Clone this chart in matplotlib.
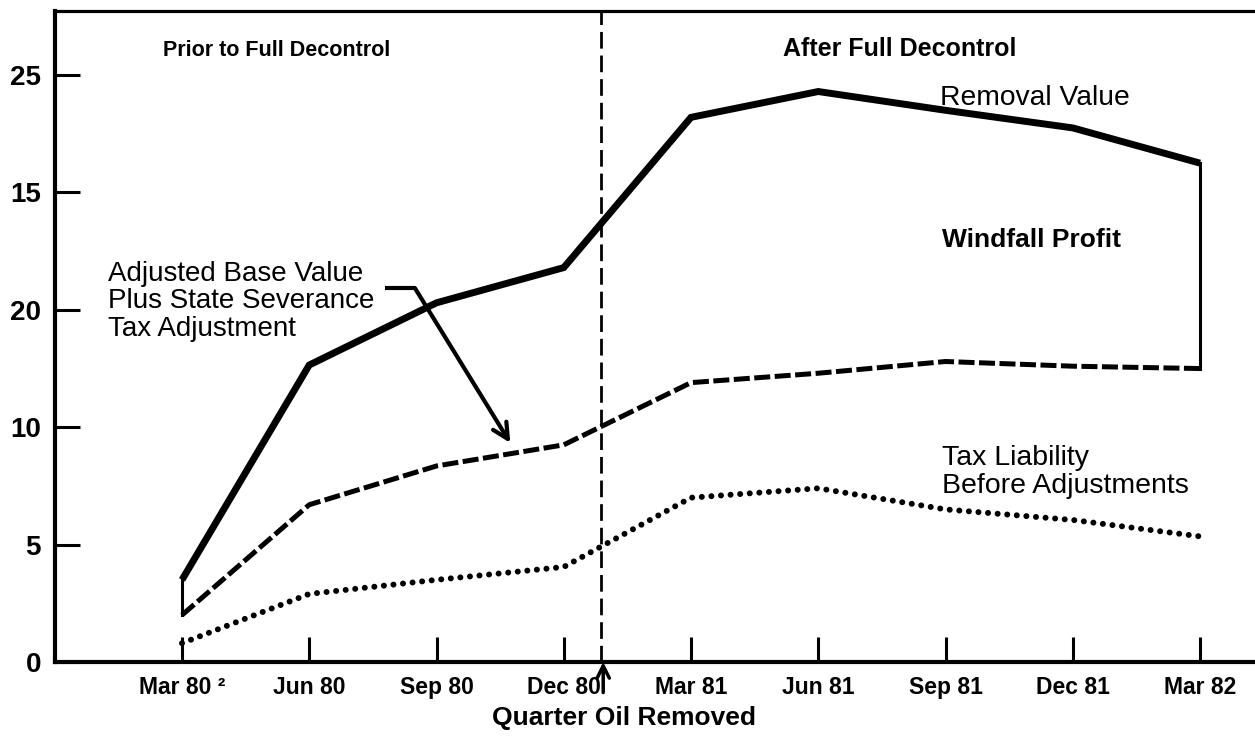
import matplotlib
matplotlib.use("Agg")
import matplotlib.pyplot as plt

plt.rcParams['font.family'] = ['Liberation Sans', 'DejaVu Sans']

quarters = ["Mar 80 ²", "Jun 80", "Sep 80", "Dec 80", "Mar 81", "Jun 81", "Sep 81", "Dec 81", "Mar 82"]
removal_value = [3.5, 12.65, 15.3, 16.8, 23.2, 24.3, 23.5, 22.75, 21.25]
adjusted_base = [2.0, 6.7, 8.35, 9.25, 11.9, 12.3, 12.8, 12.6, 12.5]
tax_liability = [0.8, 2.9, 3.5, 4.05, 7.0, 7.4, 6.5, 6.05, 5.35]
ytick_values = [0, 5, 10, 15, 20, 25]
ytick_labels = ["0", "5", "10", "20", "15", "25"]
decontrol_x = 3.29

fig = plt.figure(figsize=(12.55, 7.4), dpi=100)
ax = fig.add_axes([55/1255, 78/740, 1200/1255, 651/740])

x = list(range(len(quarters)))

ax.plot(x, removal_value, color='black', lw=5, solid_joinstyle='miter', solid_capstyle='butt', zorder=3)
ax.plot(x, adjusted_base, color='black', lw=3.6, linestyle=(0, (3.2, 0.9)), zorder=3)
ax.plot(x, tax_liability, color='black', lw=4.3, linestyle=(0, (0.01, 1.6)),
        dash_capstyle='round', zorder=3)
# closing verticals of the windfall region
ax.plot([x[0], x[0]], [adjusted_base[0], removal_value[0]], color='black', lw=2.2)
ax.plot([x[-1], x[-1]], [adjusted_base[-1], removal_value[-1]], color='black', lw=2.2)

# decontrol divider
ax.axvline(decontrol_x, color='black', lw=2, linestyle=(0, (6, 2.5)), zorder=2)
ax.annotate("", xy=(decontrol_x + 0.02, 0), xytext=(0, -22), textcoords='offset points',
            annotation_clip=False,
            arrowprops=dict(arrowstyle='->', lw=2.5, color='black', mutation_scale=22,
                            shrinkA=0, shrinkB=0))

ax.set_xlim(-0.998, 8.432)
ax.set_ylim(0, 27.73)

ax.set_xticks(x)
ax.set_xticklabels(quarters, fontsize=16.5, fontweight='bold')
ax.set_yticks(ytick_values)
ax.set_yticklabels(ytick_labels, fontsize=20, fontweight='bold')
ax.tick_params(axis='x', direction='in', length=18, width=2.2, pad=10)
ax.tick_params(axis='y', direction='in', length=18, width=2.2, pad=10)

for side in ['left', 'bottom']:
    ax.spines[side].set_linewidth(3)
ax.spines['top'].set_linewidth(2.3)
ax.spines['right'].set_visible(False)

# section headers
ax.text(-0.15, 25.8, "Prior to Full Decontrol", fontsize=15.5, fontweight='bold', va='baseline', ha='left')
ax.text(4.72, 25.8, "After Full Decontrol", fontsize=18, fontweight='bold', va='baseline', ha='left')

# series labels
ax.text(5.957, 23.72, "Removal Value", fontsize=20.3, va='baseline', ha='left')
ax.text(5.97, 17.67, "Windfall Profit", fontsize=19, fontweight='bold', va='baseline', ha='left')
ax.text(5.97, 8.09, "Tax Liability\nBefore Adjustments", fontsize=20.5, va='center', ha='left',
        linespacing=1.12)
ax.text(-0.58, 15.37, "Adjusted Base Value\nPlus State Severance\nTax Adjustment", fontsize=20,
        va='center', ha='left', linespacing=1.07)

# pointer from the adjusted-base label
ax.plot([1.595, 1.83], [15.93, 15.93], color='black', lw=3, solid_capstyle='butt')
ax.annotate("", xy=(2.58, 9.33), xytext=(1.83, 15.93),
            arrowprops=dict(arrowstyle='->', lw=3, color='black', mutation_scale=28,
                            shrinkA=0, shrinkB=0))

fig.text(624/1255, 1 - 718/740, "Quarter Oil Removed", fontsize=19, fontweight='bold',
         ha='center', va='center')

fig.savefig("out.png", dpi=100)
